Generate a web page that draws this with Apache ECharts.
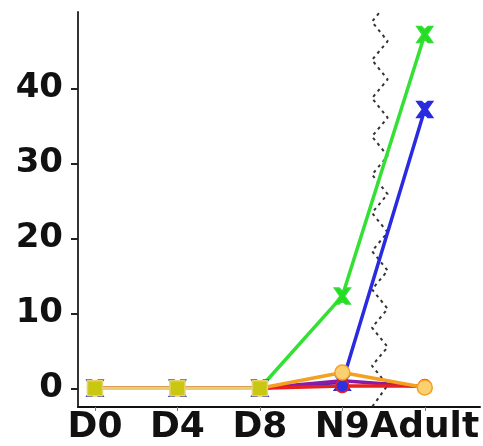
<!DOCTYPE html>
<html><head><meta charset="utf-8">
<script src="https://cdn.jsdelivr.net/npm/echarts@6/dist/echarts.min.js"></script>
<style>html,body{margin:0;padding:0;background:#fff}#c{width:483px;height:446px}</style>
</head><body><div id="c"></div>
<script>
const categories = ['D0','D4','D8','N9','Adult'];
const yTicks = [0,10,20,30,40];
const green  = [0,0,0,12.3,47.2];
const blue   = [0,0,0,0.8,37.2];
const purple = [0,0,0,1.0,0.2];
const red    = [0,0,0,0.3,0.3];
const orange = [0,0,0,2.1,0.1];
const yellow = [0,0,0,null,null];
const zigX = [3.55,3.36,3.55,3.36,3.55,3.36,3.55,3.36,3.55,3.36,3.55,3.36,3.55,3.36,3.55,3.36,3.55,3.36,3.55,3.36,3.55,3.36];
const zigY = [51.5,48.9,46.3,43.8,41.2,38.7,36.1,33.6,31.0,28.5,25.9,23.4,20.8,18.3,15.7,13.2,10.6,8.1,5.5,3.0,0.4,-2.5];

const idx = categories.map((c,i)=>i);
function pts(arr){ return arr.map((v,i)=>[i,v]); }
const chart = echarts.init(document.getElementById('c'));
const lbl = {fontFamily:'DejaVu Sans', fontWeight:'bold', color:'#111'};
const xPath = 'path://M0,0 L3,0 L5,2 L7,0 L10,0 L6.5,5 L10,10 L7,10 L5,8 L3,10 L0,10 L3.5,5 Z';
function line(name, data, color, lineColor, symbol, size, z){
  return {name, type:'line', data:pts(data), z, symbol, symbolSize:size, connectNulls:false, clip:true,
    lineStyle:{color:lineColor, width:3.5}, itemStyle:{color:color, borderColor:lineColor, borderWidth:1.5}};
}
chart.setOption({
  animation:false,
  grid:{left:78, right:3, top:12, bottom:36},
  xAxis:{type:'value', min:-0.206, max:4.67,
    axisLine:{onZero:false, lineStyle:{color:'#111', width:2}},
    axisTick:{customValues:idx, length:4, lineStyle:{color:'#777'}},
    axisLabel:Object.assign({customValues:idx, hideOverlap:false, showMinLabel:true, showMaxLabel:true, fontSize:36, margin:3, formatter:v=>categories[Math.round(v)]}, lbl),
    splitLine:{show:false}},
  yAxis:{type:'value', min:-2.5, max:50.2,
    axisLine:{show:true, onZero:false, lineStyle:{color:'#333', width:2}},
    axisTick:{show:true, inside:false, customValues:yTicks, length:7, lineStyle:{color:'#222', width:2}},
    axisLabel:Object.assign({customValues:yTicks, fontSize:34, margin:15}, lbl),
    splitLine:{show:false}},
  series:[
    {type:'line', data:zigX.map((x,i)=>[x,zigY[i]]), symbol:'none', z:1, clip:true,
      lineStyle:{color:'#333', width:2, type:[3,4]}},
    line('green', green, '#22dd22', '#33e033', xPath, 16, 2),
    line('blue', blue, '#2a2ae0', '#2a2ae0', xPath, 16, 3),
    line('purple', purple, '#8a1aa8', '#8a1aa8', 'none', 0, 4),
    line('red', red, '#3030e0', '#e82020', 'circle', 13, 5),
    line('orange', orange, '#fbd070', '#f5a020', 'circle', 15, 6),
    line('yellow', yellow, '#c8c810', '#e8d070', 'rect', 15, 7)
  ]
});
</script></body></html>
